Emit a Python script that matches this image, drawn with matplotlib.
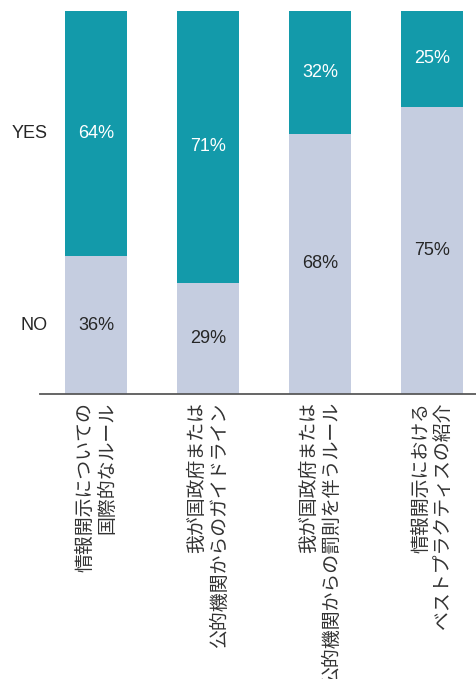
import matplotlib.pyplot as plt

plt.rcParams['font.family'] = ['Liberation Sans', 'Noto Sans CJK JP', 'DejaVu Sans']

categories = [
    "情報開示についての\n国際的なルール",
    "我が国政府または\n公的機関からのガイドライン",
    "我が国政府または\n公的機関からの罰則を伴うルール",
    "情報開示における\nベストプラクティスの紹介",
]
no_vals = [36, 29, 68, 75]
yes_vals = [64, 71, 32, 25]
series_names = ["YES", "NO"]

TEAL = "#139aaa"
LAVENDER = "#c5cde0"

fig = plt.figure(figsize=(4.77, 6.79), dpi=100)
ax = fig.add_axes([40 / 477, 285 / 679, 437 / 477, 383 / 679])

x = list(range(len(categories)))
ax.bar(x, no_vals, width=0.55, color=LAVENDER)
ax.bar(x, yes_vals, width=0.55, bottom=no_vals, color=TEAL)

for i, (n, y) in enumerate(zip(no_vals, yes_vals)):
    ax.text(i, n / 2, f"{n}%", ha="center", va="center",
            fontsize=13, color="#262626")
    ax.text(i, n + y / 2, f"{y}%", ha="center", va="center",
            fontsize=13, color="white")

# series labels aligned with the first bar's segments
ax.text(-0.43, no_vals[0] + yes_vals[0] / 2, series_names[0],
        ha="right", va="center", fontsize=13, color="#262626")
ax.text(-0.43, no_vals[0] / 2, series_names[1],
        ha="right", va="center", fontsize=13, color="#262626")

ax.set_xlim(-0.5, 3.4)
ax.set_ylim(0, 100)
ax.set_yticks([])
ax.set_xticks(x)
ax.set_xticklabels(categories, rotation=90, fontsize=13.6, color="#333333",
                   family=['Noto Sans CJK JP', 'DejaVu Sans'],
                   linespacing=1.1, multialignment="right", va="top")
ax.tick_params(axis="x", length=0, pad=6)
for s in ["top", "right", "left"]:
    ax.spines[s].set_visible(False)
ax.spines["bottom"].set_color("#595959")
ax.spines["bottom"].set_linewidth(1.3)

fig.savefig("out.png", dpi=100)
